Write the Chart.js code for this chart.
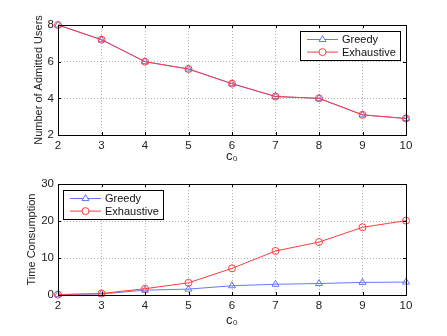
<!DOCTYPE html>
<html>
<head>
<meta charset="utf-8">
<script src="https://cdn.jsdelivr.net/npm/chart.js@4"></script>
<style>
  html, body { margin: 0; padding: 0; background: #fff; }
  #wrap { position: relative; width: 447px; height: 336px; }
  canvas { display: block; }
</style>
</head>
<body>
<div id="wrap">
  <canvas id="usersChart" width="447" height="168"></canvas>
  <canvas id="timeChart" width="447" height="168"></canvas>
</div>
<script>
// ── Data ────────────────────────────────────────────────
const c0Values        = ['2', '3', '4', '5', '6', '7', '8', '9', '10'];
const usersGreedy     = [8.0, 7.2, 6.0, 5.6, 4.8, 4.1, 4.0, 3.1, 2.9];
const usersExhaustive = [8.0, 7.2, 6.0, 5.6, 4.8, 4.1, 4.0, 3.1, 2.9];
const timeGreedy      = [0.1, 0.3, 1.3, 1.6, 2.5, 2.9, 3.1, 3.4, 3.5];
const timeExhaustive  = [0.1, 0.4, 1.7, 3.3, 7.2, 11.9, 14.3, 18.3, 20.1];
const seriesNames     = ['Greedy', 'Exhaustive'];

// ── Shared defaults ─────────────────────────────────────
Chart.defaults.font.family = "'Liberation Sans', Arial, sans-serif";
Chart.defaults.font.size   = 11;
Chart.defaults.color       = '#222';
Chart.defaults.plugins.legend.display  = false;
Chart.defaults.plugins.tooltip.enabled = false;
Chart.defaults.animation = false;

const blue = '#6478ff';
const red  = '#ff3c3c';
const gridColor = '#b4b4b4';

// frame + inward tick marks, MATLAB style
const framePlugin = {
  id: 'frame',
  afterDatasetsDraw(chart) {
    const { ctx, chartArea: a, scales } = chart;
    ctx.save();
    ctx.strokeStyle = '#000';
    ctx.lineWidth = 1;
    ctx.strokeRect(Math.round(a.left) + 0.5, Math.round(a.top) + 0.5,
                   Math.round(a.right - a.left), Math.round(a.bottom - a.top));
    ctx.beginPath();
    scales.x.ticks.forEach((t, i) => {
      const x = Math.round(scales.x.getPixelForTick(i)) + 0.5;
      ctx.moveTo(x, a.bottom); ctx.lineTo(x, a.bottom - 3);
      ctx.moveTo(x, a.top);    ctx.lineTo(x, a.top + 3);
    });
    scales.y.ticks.forEach(t => {
      const y = Math.round(scales.y.getPixelForValue(t.value)) + 0.5;
      ctx.moveTo(a.left, y);  ctx.lineTo(a.left + 3, y);
      ctx.moveTo(a.right, y); ctx.lineTo(a.right - 3, y);
    });
    ctx.stroke();
    ctx.restore();
  },
};

// boxed legend inside the plot area
const boxLegendPlugin = {
  id: 'boxLegend',
  afterDraw(chart, args, opts) {
    const { ctx, chartArea: a } = chart;
    const ds = chart.data.datasets;
    ctx.save();
    ctx.font = "11px 'Liberation Sans', Arial, sans-serif";
    const textW = Math.max(...ds.map(d => ctx.measureText(d.label).width));
    const lineLen = 31, rowH = 12.6;
    const w = Math.round(7 + lineLen + 4 + textW + 4);
    const h = 29;
    const x = opts.corner === 'right' ? Math.round(a.right - opts.dx - w) : Math.round(a.left + opts.dx);
    const y = Math.round(a.top + opts.dy);
    ctx.fillStyle = '#fff';
    ctx.fillRect(x, y, w, h);
    ctx.strokeStyle = '#000';
    ctx.lineWidth = 1;
    ctx.strokeRect(x + 0.5, y + 0.5, w, h);
    ds.forEach((d, i) => {
      const cy = y + 8.5 + i * rowH;
      const lx = x + 7;
      ctx.strokeStyle = d.borderColor;
      ctx.beginPath();
      ctx.moveTo(lx, cy); ctx.lineTo(lx + lineLen, cy);
      ctx.stroke();
      ctx.fillStyle = '#fff';
      Chart.helpers.drawPoint(ctx, {
        pointStyle: d.pointStyle, radius: d.pointRadius, borderWidth: 1,
      }, lx + lineLen / 2, cy);
      ctx.fillStyle = '#111';
      ctx.textBaseline = 'middle';
      ctx.fillText(d.label, lx + lineLen + 4, cy + 0.5);
    });
    ctx.restore();
  },
};

function series(label, data, color, style, radius, order) {
  return {
    label, data, order,
    borderColor: color,
    backgroundColor: 'rgba(0,0,0,0)',
    borderWidth: 1,
    pointStyle: style,
    pointRadius: radius,
    pointBorderColor: color,
    pointBackgroundColor: 'rgba(0,0,0,0)',
    pointBorderWidth: 1,
    tension: 0,
    clip: false,
  };
}

function axes(yMin, yMax, yStep, yTitle, yTitlePad, xHeight, xTitlePad) {
  return {
    x: {
      grid:   { color: gridColor, drawTicks: false },
      border: { display: false, dash: [1, 2] },
      ticks:  { padding: 4, maxRotation: 0, color: '#222', font: { size: 11.5 } },
      title:  { display: true, text: 'c₀', color: '#222', font: { size: 13 }, padding: { bottom: xTitlePad } },
      afterFit: s => { s.height = xHeight; },
    },
    y: {
      min: yMin, max: yMax,
      grid:   { color: gridColor, drawTicks: false },
      border: { display: false, dash: [1, 2] },
      ticks:  { stepSize: yStep, padding: 4, color: '#222', font: { size: 11.5 } },
      title:  { display: true, text: yTitle, color: '#222', font: { size: 11 }, padding: { top: yTitlePad } },
      afterFit: s => { s.width = 58; },
    },
  };
}

// ── 1. Admitted users ───────────────────────────────────
new Chart(document.getElementById('usersChart'), {
  type: 'line',
  data: {
    labels: c0Values,
    datasets: [
      series(seriesNames[0], usersGreedy, blue, 'triangle', 4, 2),
      series(seriesNames[1], usersExhaustive, red, 'circle', 3.5, 1),
    ],
  },
  options: {
    responsive: false,
    layout: { padding: { left: 0, right: 41, top: 25, bottom: 0 } },
    scales: axes(2, 8, 2, 'Number of Admitted Users', 32, 33, 4),
    plugins: { boxLegend: { corner: 'right', dx: 6, dy: 6 } },
  },
  plugins: [framePlugin, boxLegendPlugin],
});

// ── 2. Time consumption ─────────────────────────────────
new Chart(document.getElementById('timeChart'), {
  type: 'line',
  data: {
    labels: c0Values,
    datasets: [
      series(seriesNames[0], timeGreedy, blue, 'triangle', 4, 2),
      series(seriesNames[1], timeExhaustive, red, 'circle', 3.5, 1),
    ],
  },
  options: {
    responsive: false,
    layout: { padding: { left: 0, right: 41, top: 16, bottom: 0 } },
    scales: axes(0, 30, 10, 'Time Consumption', 25, 41, 8),
    plugins: { boxLegend: { corner: 'left', dx: 5, dy: 6 } },
  },
  plugins: [framePlugin, boxLegendPlugin],
});
</script>
</body>
</html>
